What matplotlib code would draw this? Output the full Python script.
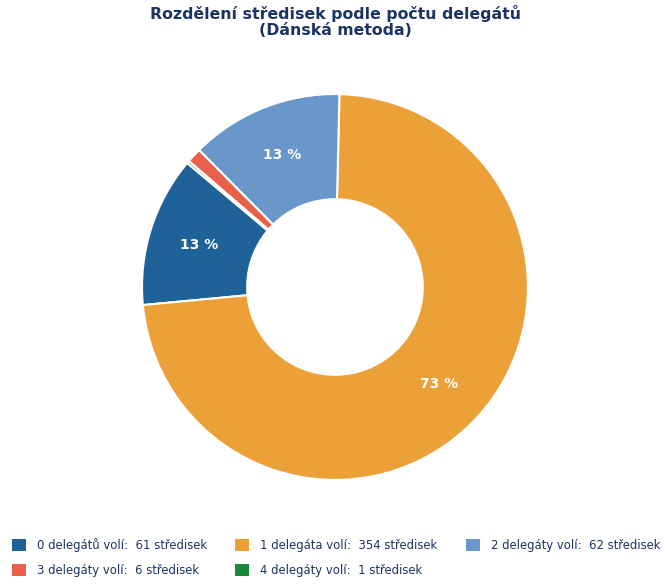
import matplotlib.pyplot as plt
from matplotlib.patches import Patch

title = "Rozdělení středisek podle počtu delegátů\n(Dánská metoda)"
categories = ["0 delegátů volí", "1 delegáta volí", "2 delegáty volí",
              "3 delegáty volí", "4 delegáty volí"]
counts = [61, 354, 62, 6, 1]
colors = ["#1f6199", "#eca138", "#6a97ca", "#e9604a", "#168a3a"]

navy = "#1c3461"

fig = plt.figure(figsize=(6.7, 5.84), dpi=100)
ax = fig.add_axes([0.2134, 0.1798, 0.5731, 0.6575])


def pct_label(p):
    # only show labels for big enough slices
    return f"{p:.0f} %" if p > 5 else ""


wedges, texts, autotexts = ax.pie(
    counts, colors=colors, startangle=140, counterclock=True,
    autopct=pct_label, pctdistance=0.735,
    wedgeprops=dict(width=0.545, edgecolor="white", linewidth=1.5),
    textprops=dict(color="white", fontsize=10, fontweight="bold"))
ax.set_xlim(-0.995, 0.995)
ax.set_ylim(-0.995, 0.995)
ax.set_aspect("equal")

fig.suptitle(title, x=0.5, y=0.992, fontsize=11.3, fontweight="bold", color=navy,
             linespacing=1.15)

handles = [Patch(facecolor=c, edgecolor="none") for c in colors]
labels = [f"{cat}:  {n} středisek" for cat, n in zip(categories, counts)]
order = [0, 3, 1, 4, 2]
leg = fig.legend([handles[i] for i in order], [labels[i] for i in order],
                 loc="lower left", bbox_to_anchor=(0.011, 0.004), ncol=3,
                 frameon=False, fontsize=8.4, handlelength=1.2, handleheight=1.2,
                 handletextpad=0.95, columnspacing=2.4, labelspacing=1.0,
                 borderaxespad=0.0)
for t in leg.get_texts():
    t.set_color(navy)

fig.savefig("out.png", dpi=100)
